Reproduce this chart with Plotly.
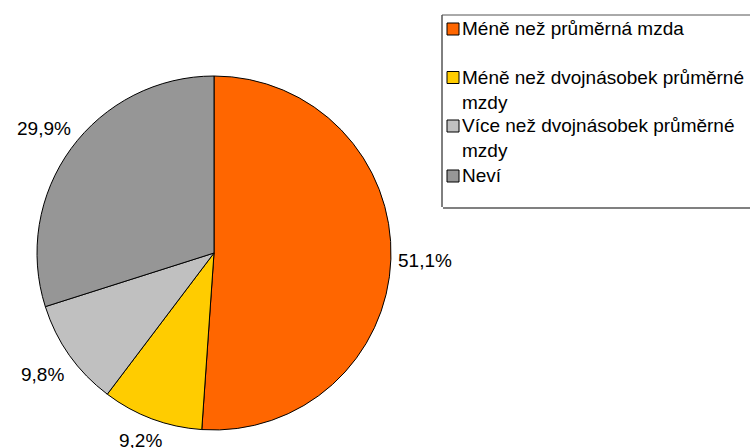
import math

import plotly.graph_objects as go

# data
categories = [
    "Méně než průměrná mzda",
    "Méně než dvojnásobek průměrné mzdy",
    "Více než dvojnásobek průměrné mzdy",
    "Neví",
]
legend_labels = [
    "Méně než průměrná mzda",
    "Méně než dvojnásobek průměrné<br>mzdy",
    "Více než dvojnásobek průměrné<br>mzdy",
    "Neví",
]
shares = [51.1, 9.2, 9.8, 29.9]
colors = ["#FF6600", "#FFCC00", "#C0C0C0", "#969696"]

W, H = 750, 448
FONT = "Liberation Sans, Arial, sans-serif"

# pie geometry in pixels (centre and radius)
CX, CY, R = 214, 253, 177
LABEL_R = 1.19 * R
LABEL_MAX_Y = 440  # keep labels inside the chart area like excel does


def px(x):
    return x / W


def py(y):
    return 1 - y / H


pct_text = [f"{v:.1f}".replace(".", ",") + "%" for v in shares]

fig = go.Figure(go.Pie(
    labels=categories,
    values=shares,
    textinfo="none",
    sort=False,
    direction="clockwise",
    rotation=0,
    marker=dict(colors=colors, line=dict(color="black", width=1)),
    domain=dict(x=[px(CX - R), px(CX + R)], y=[py(CY + R), py(CY - R)]),
    showlegend=False,
    hoverinfo="label+percent",
))

annotations = []

# percentage labels outside the slices
total = sum(shares)
cum = 0.0
for v, t in zip(shares, pct_text):
    mid = (cum + v / 2) / total * 2 * math.pi
    cum += v
    lx = CX + LABEL_R * math.sin(mid)
    ly = min(CY - LABEL_R * math.cos(mid), LABEL_MAX_Y)
    annotations.append(dict(
        x=px(lx), y=py(ly), xref="paper", yref="paper",
        xanchor="center", yanchor="middle",
        text=t, showarrow=False,
        font=dict(family=FONT, size=19, color="black"),
    ))

# hand-drawn legend box like the original (runs off the right edge,
# so only left / top / bottom borders)
line_k = dict(type="line", xref="paper", yref="paper")
shapes = [
    dict(line_k, x0=px(442), x1=px(442), y0=py(207), y1=py(15),
         line=dict(color="black", width=1)),
    dict(line_k, x0=px(442), x1=1, y0=py(15), y1=py(15),
         line=dict(color="#555555", width=1)),
    dict(line_k, x0=px(443), x1=1, y0=py(208), y1=py(208),
         line=dict(color="#808080", width=2)),
]
row_y = [29, 77.5, 126, 176]
for lab, col, yc in zip(legend_labels, colors, row_y):
    shapes.append(dict(
        type="rect", xref="paper", yref="paper",
        x0=px(447), x1=px(459), y0=py(yc + 6), y1=py(yc - 6),
        line=dict(color="black", width=1), fillcolor=col,
    ))
    annotations.append(dict(
        x=px(460), y=py(yc - 13), xref="paper", yref="paper",
        xanchor="left", yanchor="top", align="left",
        text=lab, showarrow=False,
        font=dict(family=FONT, size=19, color="black"),
    ))

fig.update_layout(
    width=W, height=H,
    margin=dict(l=0, r=0, t=0, b=0),
    paper_bgcolor="white",
    plot_bgcolor="white",
    font=dict(family=FONT, size=19, color="black"),
    shapes=shapes,
    annotations=annotations,
)

# page body has an 8px default margin, drop it so the figure sits at 0,0
fig.write_html(
    "out.html",
    config={"displayModeBar": False},
    post_script="document.body.style.margin='0';",
)
